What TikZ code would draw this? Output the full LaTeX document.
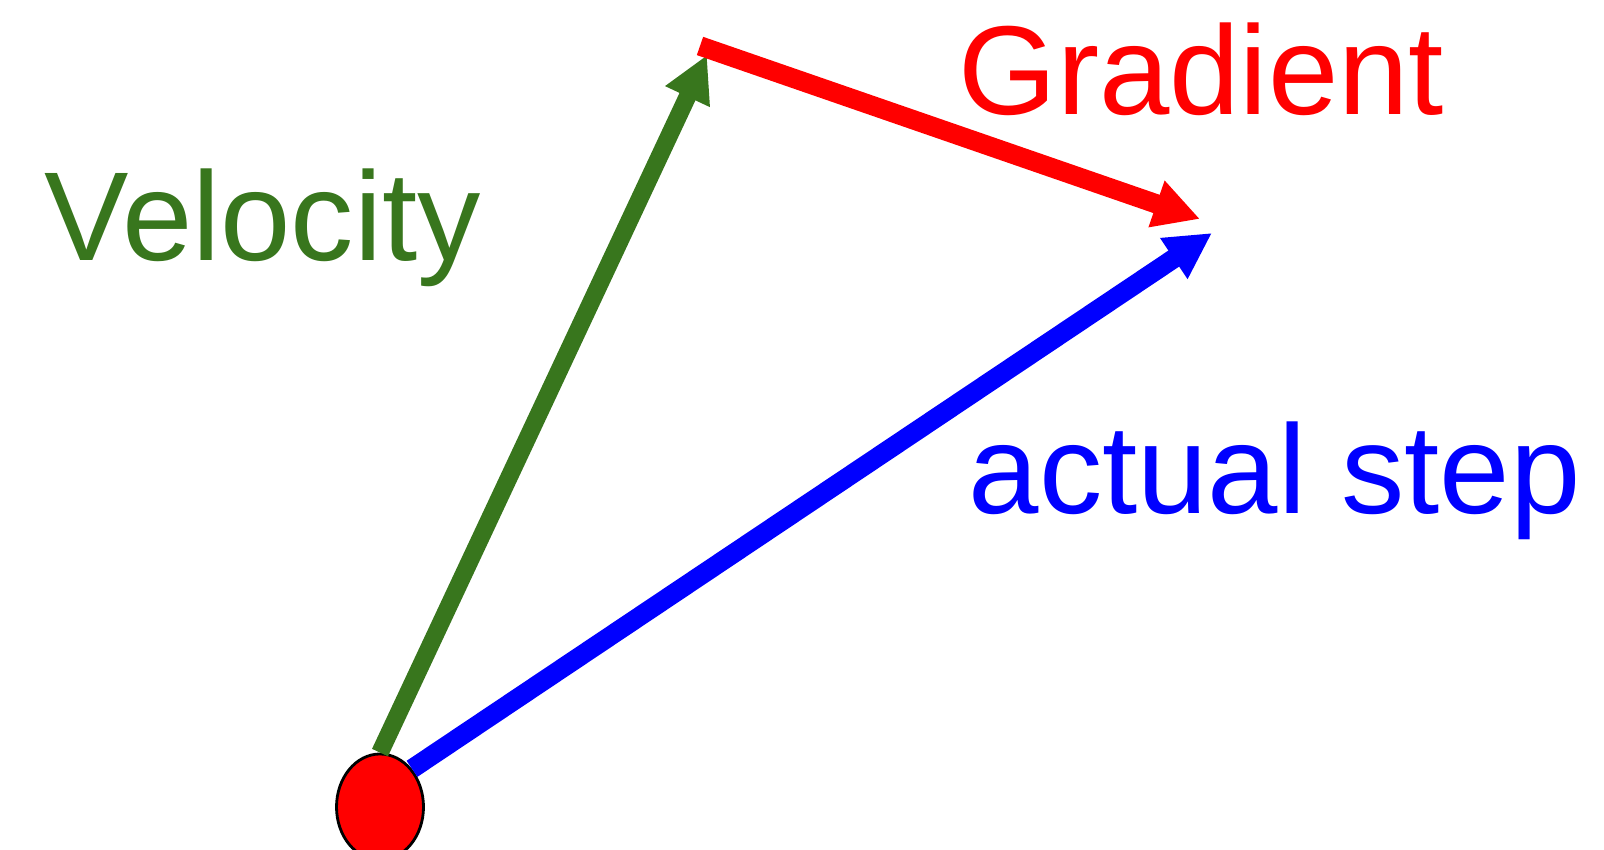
\documentclass[tikz,border=0pt]{standalone}
\usepackage{fontspec}
\setmainfont{Liberation Sans}
\usetikzlibrary{arrows.meta,shapes.geometric}
\definecolor{velgreen}{RGB}{56,118,29}

\begin{document}
\begin{tikzpicture}[>={Triangle[length=4.6mm,width=4.6mm]},font=\fontsize{36}{40}\selectfont,
  lbl/.style={anchor=base west,inner sep=0pt}]
\useasboundingbox (0,0) rectangle (16.04,8.5);
% start point
\node[ellipse,draw=black,line width=0.8pt,fill=red,minimum width=0.87cm,minimum height=1.06cm,inner sep=0pt] (dot) at (3.80,0.43) {};
\coordinate (vtip) at (7.07,7.95);
\coordinate (gstart) at (7.00,8.04);
\coordinate (gtip) at (12.00,6.31);
\coordinate (atip) at (12.12,6.17);
% vectors
\draw[->,velgreen,line width=5pt] (dot.north) -- (vtip);
\draw[->,red,line width=5.5pt] (gstart) -- (gtip);
\draw[->,blue,line width=5.5pt] (dot.50) -- (atip);
% labels
\node[lbl,text=velgreen] (vel) at (0.44,5.89) {Velocity};
\node[lbl,text=red] (grad) at (9.58,7.35) {Gradient};
\node[lbl,text=blue] (step) at (9.68,3.36) {actual step};
\end{tikzpicture}
\end{document}
